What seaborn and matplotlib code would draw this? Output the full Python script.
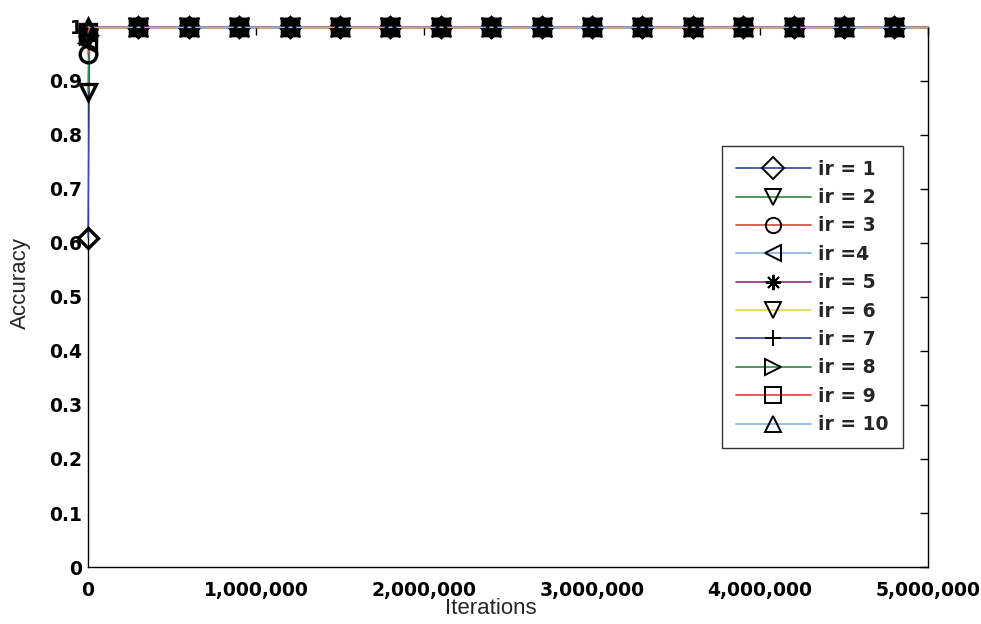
import matplotlib
matplotlib.use("Agg")
import matplotlib.pyplot as plt
import matplotlib.ticker as mticker
import seaborn as sns

# Data
iterations = [0, 10000, 300000, 600000, 900000, 1200000, 1500000, 1800000,
              2100000, 2400000, 2700000, 3000000, 3300000, 3600000, 3900000,
              4200000, 4500000, 4800000, 5000000]
labels = ["ir = 1", "ir = 2", "ir = 3", "ir =4", "ir = 5",
          "ir = 6", "ir = 7", "ir = 8", "ir = 9", "ir = 10"]
start_acc = [0.61, 0.88, 0.95, 0.97, 0.99, 0.98, 0.995, 0.985, 0.99, 1.0]
plateau = [0.999, 0.999, 0.999, 0.999, 0.999, 0.999, 0.999, 0.999, 0.999,
           0.999, 0.999, 0.999, 0.999, 0.999, 0.999, 0.999, 0.999, 0.999]
markers = ["D", "v", "o", "<", (8, 2, 0), "v", "+", ">", "s", "^"]
colors = ["#3c4fa5", "#3f8f4f", "#e0504a", "#8fb8e8", "#9a3a8a",
          "#e8d850", "#3c4fa5", "#3f8f4f", "#e0504a", "#8fb8e8"]
marker_idx = [0] + list(range(2, 18))

sns.set_style("white")
plt.rcParams["font.family"] = ["Liberation Sans", "DejaVu Sans"]

fig = plt.figure(figsize=(9.81, 6.24), dpi=100)
ax = fig.add_axes([0.0897, 0.0913, 0.8563, 0.8657])

for lab, s, m, c in zip(labels, start_acc, markers, colors):
    acc = [s] + plateau
    ms = 10 if m == "D" else 12
    sns.lineplot(x=iterations, y=acc, ax=ax, color=c, marker=m, markersize=ms,
                 markeredgecolor="black", markerfacecolor="none",
                 markeredgewidth=2.4, markevery=marker_idx, linewidth=1.0,
                 label=lab, estimator=None, sort=False, clip_on=False,
                 zorder=3)

ax.set_xlim(0, 5000000)
ax.set_ylim(0, 1)
ax.set_xticks([0, 1000000, 2000000, 3000000, 4000000, 5000000])
ax.set_yticks([0, 0.1, 0.2, 0.3, 0.4, 0.5, 0.6, 0.7, 0.8, 0.9, 1])
ax.xaxis.set_major_formatter(mticker.FuncFormatter(lambda v, p: f"{int(v):,}"))
ax.yaxis.set_major_formatter(mticker.FuncFormatter(lambda v, p: f"{v:g}"))
ax.tick_params(direction="in", length=6, width=1, top=True, right=True,
               colors="black")
ax.tick_params(axis="x", pad=10)
ax.tick_params(axis="y", pad=4)
for t in ax.get_xticklabels() + ax.get_yticklabels():
    t.set_family("DejaVu Sans")
    t.set_fontweight("bold")
    t.set_fontsize(13.5)
for sp in ax.spines.values():
    sp.set_color("black")
    sp.set_linewidth(1.0)

ax.set_xlabel("Iterations", fontsize=16, va="center")
ax.set_ylabel("Accuracy", fontsize=16, va="center")
ax.xaxis.set_label_coords(0.479, -0.076)
ax.yaxis.set_label_coords(-0.081, 0.526)

leg = ax.legend(loc="upper right", bbox_to_anchor=(0.97, 0.78),
                borderaxespad=0,
                prop={"family": "DejaVu Sans", "weight": "bold", "size": 13.5},
                frameon=True, fancybox=False, edgecolor="black",
                handlelength=4.0, labelspacing=0.5, borderpad=0.75,
                handletextpad=0.4)
leg.get_frame().set_linewidth(1.0)
leg.set_zorder(5)
for h in leg.get_lines():
    h.set_markeredgewidth(1.4)
    h.set_markersize(11)
    h.set_linewidth(1.3)

fig.savefig("out.png", dpi=100)
